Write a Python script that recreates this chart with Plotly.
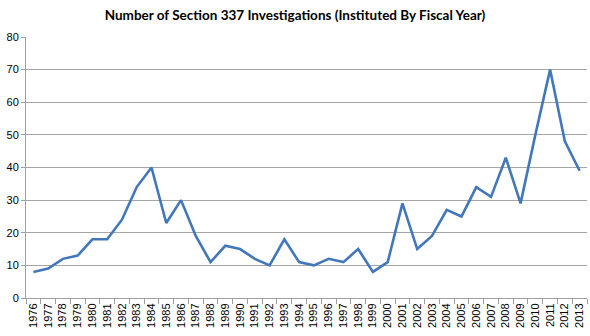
import plotly.graph_objects as go

years = [str(y) for y in range(1976, 2014)]
investigations = [8, 9, 12, 13, 18, 18, 24, 34, 40, 23, 30, 19, 11, 16, 15, 12, 10, 18, 11, 10,
                  12, 11, 15, 8, 11, 29, 15, 19, 27, 25, 34, 31, 43, 29, 50, 70, 48, 39]
y_ticks = [0, 10, 20, 30, 40, 50, 60, 70, 80]

fig = go.Figure(go.Scatter(
    x=years, y=investigations, mode="lines",
    line=dict(color="#4377bb", width=2.6),
))

fig.update_layout(
    width=590, height=336,
    margin=dict(l=26, r=3, t=37, b=38),
    paper_bgcolor="white", plot_bgcolor="white",
    showlegend=False,
    title=dict(text="<b>Number of Section 337 Investigations (Instituted By Fiscal Year)</b>",
               x=0.5, xanchor="center", y=0.955, yanchor="middle",
               font=dict(family="Lato, Open Sans, sans-serif", size=13.5, color="#000000")),
    font=dict(family="Liberation Sans, Arial, sans-serif", size=11, color="#000000"),
)
fig.update_xaxes(
    type="category", tickangle=-90, showgrid=False,
    showline=True, linecolor="#a0a0a0", linewidth=1,
    ticks="outside", ticklen=5, tickcolor="#a0a0a0",
    tickson="boundaries", tickfont=dict(size=11),
    range=[-0.5, len(years) - 0.5],
)
fig.update_yaxes(
    range=[0, 80], tickvals=y_ticks, showgrid=True, gridcolor="#a6a6a6", gridwidth=1,
    showline=True, linecolor="#a0a0a0", linewidth=1,
    ticks="outside", ticklen=4, tickcolor="#a0a0a0", zeroline=False,
    tickfont=dict(size=11),
)

fig.write_html("out.html")
